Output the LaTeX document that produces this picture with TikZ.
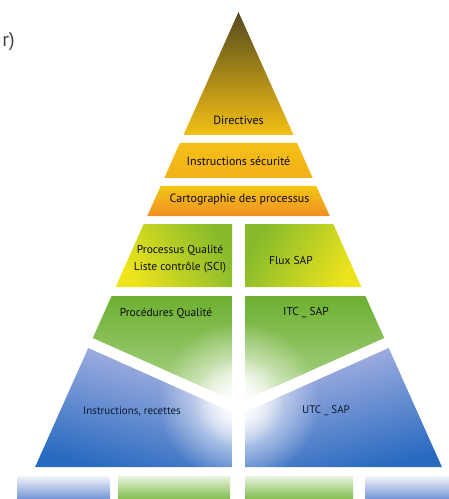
\documentclass[tikz,border=0pt]{standalone}
\usepackage{fontspec}
\setmainfont{PT Sans}
\usetikzlibrary{fadings}
\definecolor{olivetop}{RGB}{84,74,30}
\definecolor{gold}{RGB}{244,192,22}
\definecolor{amber}{RGB}{242,176,26}
\definecolor{orangeb}{RGB}{238,142,36}
\definecolor{lemon}{RGB}{238,228,28}
\definecolor{leaf}{RGB}{108,176,48}
\definecolor{bluedeep}{RGB}{40,106,192}
\definecolor{bluelight}{RGB}{178,184,228}
\tikzfading[name=glowfade, inner color=transparent!0, outer color=transparent!100]
\tikzset{lbl/.style={font=\fontsize{11.5}{17}\selectfont, text=black!85!olivetop, align=center, inner sep=0pt},
         toplbl/.style={lbl, font=\fontsize{12}{14}\selectfont},
         bluelbl/.style={lbl, font=\fontsize{11}{13}\selectfont, text=black!75!bluedeep}}

\begin{document}
\begin{tikzpicture}[x=1bp,y=-1bp]
        \useasboundingbox (0,0) rectangle (449,499);
        \node[text=black!75, font=\fontsize{20}{20}\selectfont, anchor=east, inner sep=0pt] (cut) at (15,42) {r)};

        % top of the pyramid
        \shade[top color=olivetop, middle color=gold!85!olivetop, bottom color=gold](238.5,12)--(293.5,135)--(183.5,135)--cycle;
        \shade[top color=gold, bottom color=amber](179.9,143)--(297.1,143)--(312.7,178)--(164.3,178)--cycle;
        \shade[top color=gold!90!yellow, bottom color=orangeb](160.7,186)--(316.3,186)--(329.7,216)--(147.3,216)--cycle;

        % yellow row
        \shade[left color=lemon, right color=leaf!80!lemon, shading angle=120](143.7,224)--(232,224)--(232,287)--(115.6,287)--cycle;
        \shade[left color=leaf!80!lemon, right color=lemon, shading angle=60](245,224)--(333.3,224)--(361.4,287)--(245,287)--cycle;

        % green row
        \shade[top color=leaf, bottom color=leaf!55!white](111.6,296)--(232,296)--(232,400)--(92.8,338)--cycle;
        \shade[top color=leaf, bottom color=leaf!55!white](245,296)--(365.4,296)--(384.2,338)--(245,400)--cycle;

        % blue row
        \shade[top color=bluelight, bottom color=bluedeep, shading angle=-15](88.3,348)--(232,412.2)--(232,467)--(35.1,467)--cycle;
        \shade[top color=bluelight, bottom color=bluedeep, shading angle=15](245,412.2)--(388.7,348)--(441.9,467)--(245,467)--cycle;

        % glow in the middle
        \fill[white, path fading=glowfade](238.5,402) circle (80);
        \fill[white, path fading=glowfade](238.5,402) circle (45);
        \fill[white](232,395) rectangle (245,499);

        % bottom strip
        \shade[top color=white!85!bluelight, bottom color=bluelight!55!bluedeep](17,476) rectangle (110,499);
        \shade[top color=white!85!leaf, bottom color=leaf!85!white](118,476) rectangle (230,499);
        \shade[top color=white!85!leaf, bottom color=leaf!85!white](245,476) rectangle (353,499);
        \shade[top color=white!85!bluelight, bottom color=bluelight!55!bluedeep](365,476) rectangle (460,499);

        \node[toplbl] (dir) at (238.5,120) {Directives};
        \node[toplbl] (secu) at (238.5,161) {Instructions sécurité};
        \node[toplbl] (carto) at (239.5,200) {Cartographie des processus};
        \node[lbl] (pq) at (180,259) {Processus Qualité\\Liste contrôle (SCI)};
        \node[lbl] (flux) at (291,260) {Flux SAP};
        \node[lbl] (proc) at (166,313) {Procédures Qualité};
        \node[lbl] (itc) at (306,313) {ITC \_ SAP};
        \node[bluelbl] (instr) at (132,411) {Instructions, recettes};
        \node[bluelbl] (utc) at (326,411) {UTC \_ SAP};
    \end{tikzpicture}
\end{document}
